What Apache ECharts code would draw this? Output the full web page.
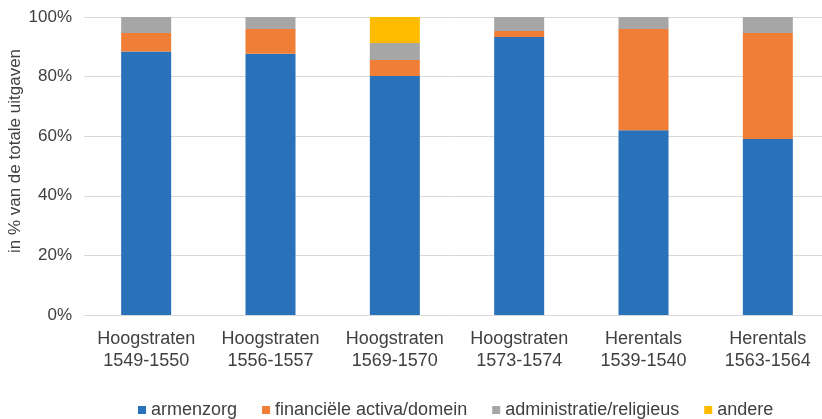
<!DOCTYPE html>
<html>
<head>
<meta charset="utf-8">
<script src="https://cdn.jsdelivr.net/npm/echarts@6/dist/echarts.min.js"></script>
<style>
  html, body { margin: 0; padding: 0; background: #fff; }
  #chart { width: 822px; height: 419px; }
</style>
</head>
<body>
<div id="chart"></div>
<script>
const categories = [
  'Hoogstraten\n1549-1550',
  'Hoogstraten\n1556-1557',
  'Hoogstraten\n1569-1570',
  'Hoogstraten\n1573-1574',
  'Herentals\n1539-1540',
  'Herentals\n1563-1564'
]
const armenzorg = [88.4, 87.7, 80.2, 93.3, 62.0, 59.1]
const financieel = [6.2, 8.3, 5.4, 2.0, 34.0, 35.5]
const administratie = [5.4, 4.0, 5.7, 4.7, 4.0, 5.4]
const andere = [0, 0, 8.7, 0, 0, 0]
const yTicks = [0, 20, 40, 60, 80, 100]

const textColor = '#404040'
const font = 'Liberation Sans, Arial, sans-serif'

const chart = echarts.init(document.getElementById('chart'), null, { renderer: 'canvas' })

const makeSeries = (name, data, color) => ({
  name,
  type: 'bar',
  stack: 'total',
  data,
  barWidth: 50,
  itemStyle: { color },
  emphasis: { disabled: true }
})

chart.setOption({
  animation: false,
  textStyle: { fontFamily: font },
  grid: { left: 84, top: 17, width: 746, height: 298, outerBoundsMode: 'none', containLabel: false },
  legend: {
    top: 396,
    left: 133,
    itemWidth: 8,
    itemHeight: 8,
    itemGap: 25,
    icon: 'rect',
    textStyle: { color: textColor, fontSize: 18, fontFamily: font },
    data: ['armenzorg', 'financiële activa/domein', 'administratie/religieus', 'andere']
  },
  xAxis: {
    type: 'category',
    data: categories,
    axisTick: { show: false },
    axisLine: { lineStyle: { color: '#D9D9D9', width: 1 } },
    axisLabel: {
      color: textColor,
      fontSize: 18,
      fontFamily: font,
      lineHeight: 22,
      margin: 13,
      interval: 0
    }
  },
  yAxis: {
    type: 'value',
    min: yTicks[0],
    max: yTicks[yTicks.length - 1],
    interval: 20,
    name: 'in % van de totale uitgaven',
    nameLocation: 'middle',
    nameGap: 60,
    nameMoveOverlap: false,
    nameTextStyle: { color: textColor, fontSize: 17, fontFamily: font, padding: [0, 0, 0, 30] },
    axisLabel: {
      color: textColor,
      fontSize: 17,
      fontFamily: font,
      margin: 12,
      formatter: v => v + '%'
    },
    splitLine: { lineStyle: { color: '#D9D9D9', width: 1 } },
    axisLine: { show: false },
    axisTick: { show: false }
  },
  series: [
    makeSeries('armenzorg', armenzorg, '#2971B9'),
    makeSeries('financiële activa/domein', financieel, '#F07E36'),
    makeSeries('administratie/religieus', administratie, '#A6A6A6'),
    makeSeries('andere', andere, '#FEBB00')
  ]
})

window.addEventListener('resize', () => {
  chart.resize()
})
</script>
</body>
</html>
